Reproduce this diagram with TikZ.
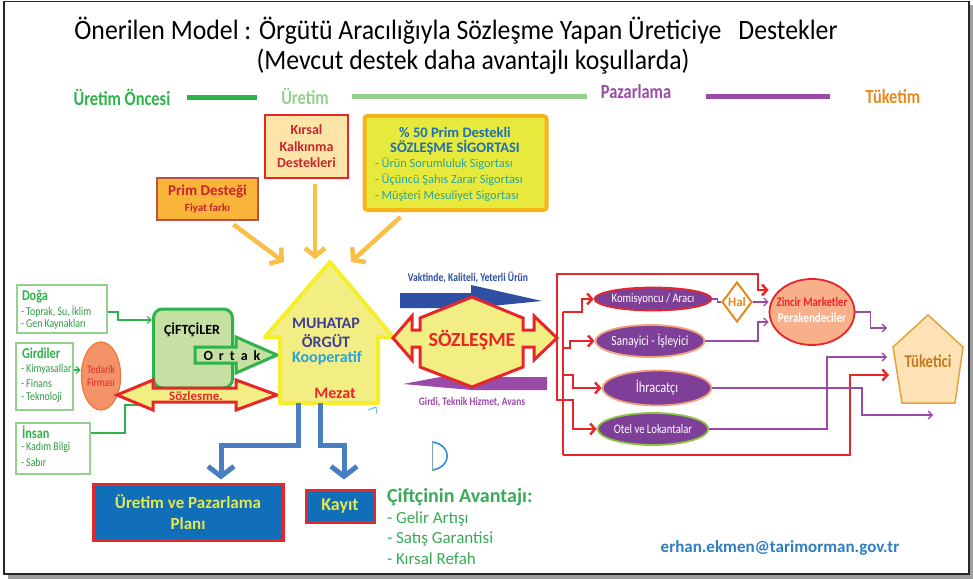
\documentclass[tikz,border=0pt]{standalone}
\usepackage{fontspec}
\setmainfont{Carlito}
\newfontfamily\narrowfont[FakeStretch=0.82]{Carlito}
\newfontfamily\titlefont[FakeStretch=0.92]{Carlito}
\usetikzlibrary{arrows.meta,shapes.geometric}

\newcommand{\pxs}[2]{\fontsize{#1}{#2}\selectfont}

\definecolor{grnA}{HTML}{2DB34A}
\definecolor{grnB}{HTML}{93D18C}
\definecolor{grnT}{HTML}{2F9A44}
\definecolor{purA}{HTML}{9A4BA8}
\definecolor{orgA}{HTML}{E8891E}
\definecolor{redA}{HTML}{E8262A}
\definecolor{yelF}{HTML}{F2EE84}
\definecolor{yelB}{HTML}{F4EE2C}
\definecolor{bluA}{HTML}{4A7EC2}
\definecolor{bluP}{HTML}{106FB8}
\definecolor{txtY}{HTML}{E4E84C}
\definecolor{purE}{HTML}{7D3F98}
\definecolor{arrO}{HTML}{FABF48}
\definecolor{dkred}{HTML}{C4262E}
\definecolor{navy}{HTML}{2E4FA2}
\definecolor{hTxt}{HTML}{3C3F95}
\definecolor{skyb}{HTML}{2BA0D9}
\definecolor{tealT}{HTML}{2AA3A0}
\definecolor{sigblue}{HTML}{1F6FB4}
\definecolor{sigB}{HTML}{F7B418}
\definecolor{sigF}{HTML}{E7EA3C}
\definecolor{primF}{HTML}{F9B43A}
\definecolor{primB}{HTML}{B5524A}
\definecolor{peach}{HTML}{FDE5A8}
\definecolor{cifF}{HTML}{C6E0A4}
\definecolor{tedF}{HTML}{F4936A}
\definecolor{tedB}{HTML}{F07A3C}
\definecolor{zinF}{HTML}{F8B08A}
\definecolor{tukF}{HTML}{FDE2B6}
\definecolor{tukB}{HTML}{E3A23B}
\definecolor{tukT}{HTML}{C47A1C}
\definecolor{avG}{HTML}{3AAA5A}
\definecolor{mailB}{HTML}{2E7EC0}
\definecolor{sanB}{HTML}{F4A27A}
\definecolor{otelB}{HTML}{8CC63F}

\begin{document}
\begin{tikzpicture}[x=1pt,y=-1pt,
  txt/.style={inner sep=0pt, outer sep=0pt, align=center},
  ltxt/.style={inner sep=0pt, outer sep=0pt, anchor=west},
  srcbox/.style={draw=grnB, line width=1.3pt, fill=white, inner sep=0pt},
  srchead/.style={ltxt, font=\narrowfont\bfseries\pxs{15}{17}, text=grnA},
  srcitem/.style={ltxt, font=\narrowfont\pxs{12}{14}, text=grnT},
  gline/.style={draw=grnA, line width=1.1pt},
  garrow/.style={gline, -{Straight Barb[length=4pt,width=7pt]}},
  rline/.style={draw=redA, line width=2.4pt},
  rarrow/.style={rline, -{Straight Barb[length=5pt,width=11pt]}},
  pline/.style={draw=purA, line width=1.3pt},
  parrow/.style={pline, -{Straight Barb[length=4pt,width=8pt]}},
  supp/.style={draw=arrO, line width=4.5pt, -{Straight Barb[length=8pt,width=20pt]}},
  bline/.style={draw=bluA, line width=5pt, -{Straight Barb[length=10pt,width=26pt]}},
  mkt/.style={ellipse, fill=purE, inner sep=0pt, line width=1.8pt, text=white},
  phase/.style={txt, font=\narrowfont\bfseries\pxs{20}{22}},
  house/.style={txt, font=\bfseries\pxs{16}{18}},
  avtxt/.style={ltxt, font=\pxs{17}{19}, text=avG},
]
\useasboundingbox (0,0) rectangle (973,580);

% slide frame with drop shadow
\fill[black!38] (8,5) rectangle (973,579);
\draw[black!85, line width=1.3pt, fill=white] (4,1.5) rectangle (969,574);

% title
\node[txt, font=\titlefont\pxs{28}{30}] (title) at (456,31)
  {Önerilen Model : Örgütü Aracılığıyla Sözleşme Yapan Üreticiye\hspace{0.4em} Destekler};
\node[txt, font=\titlefont\pxs{28}{30}] (subtitle) at (473,62)
  {(Mevcut destek daha avantajlı koşullarda)};

% phase legend
\node[phase, text=grnA] (phPre) at (122,97) {Üretim Öncesi};
\draw[grnA, line width=5pt] (187,98) -- (257,98);
\node[phase, text=grnB] (phProd) at (305,96) {Üretim};
\draw[grnB, line width=5pt] (352,97) -- (587,97);
\node[phase, text=purA] (phMkt) at (636,92) {Pazarlama};
\draw[purA, line width=5pt] (706,97) -- (830,97);
\node[phase, text=orgA] (phCons) at (893,97) {Tüketim};

% support boxes
\node[draw=primB, fill=primF, line width=1.2pt, minimum width=101, minimum height=42, inner sep=0] (prim) at (207.5,199) {};
\node[txt, font=\bfseries\pxs{15}{17}, text=dkred] (primT1) at (207.5,192) {Prim Desteği};
\node[txt, font=\bfseries\pxs{11}{12}, text=dkred] (primT2) at (207.5,209) {Fiyat farkı};

\node[draw=redA, fill=peach, line width=1.5pt, minimum width=83, minimum height=63, inner sep=0,
      align=center, font=\bfseries\pxs{14}{16.5}, text=dkred] (kirsal) at (306.5,146.5)
  {Kırsal\\Kalkınma\\Destekleri};

\node[draw=sigB, fill=sigF, line width=4pt, rounded corners=3pt, minimum width=182, minimum height=94, inner sep=0] (sig) at (455.5,163) {};
\node[txt, font=\bfseries\pxs{14.5}{16}, text=sigblue] (sigT1) at (455,132) {\%~50 Prim Destekli};
\node[txt, font=\bfseries\pxs{14.5}{16}, text=sigblue] (sigT2) at (455,148) {SÖZLEŞME SİGORTASI};
\node[ltxt, font=\pxs{12.4}{14}, text=tealT] (sigI1) at (375,164) {- Ürün Sorumluluk Sigortası};
\node[ltxt, font=\pxs{12.4}{14}, text=tealT] (sigI2) at (375,180) {- Üçüncü Şahıs Zarar Sigortası};
\node[ltxt, font=\pxs{12.4}{14}, text=tealT] (sigI3) at (375,196) {- Müşteri Mesuliyet Sigortası};

% supports flowing to the organisation
\coordinate (hL) at (284,262);
\coordinate (hM) at (315,259);
\coordinate (hR) at (351,262);
\draw[supp] ([xshift=26pt,yshift=-4pt]prim.south) -- (hL);
\draw[supp] ([xshift=8.5pt,yshift=-5pt]kirsal.south) -- (hM);
\draw[supp] ([xshift=-55pt,yshift=-5pt]sig.south) -- (hR);

% production inputs
\node[srcbox, minimum width=90, minimum height=48] (doga) at (62,309) {};
\node[srchead] (dogaT) at (22,297) {Doğa};
\node[srcitem] (doga1) at (21,312) {- Toprak, Su, İklim};
\node[srcitem] (doga2) at (21,324) {- Gen Kaynakları};

\node[srcbox, minimum width=57, minimum height=67] (girdi) at (44.5,376.5) {};
\node[srchead] (girdiT) at (22,353) {Girdiler};
\node[srcitem] (girdi1) at (21,369) {- Kimyasallar};
\node[srcitem] (girdi2) at (21,383) {- Finans};
\node[srcitem] (girdi3) at (21,397) {- Teknoloji};

\node[srcbox, minimum width=74, minimum height=51] (insan) at (53,448.5) {};
\node[srchead] (insanT) at (22,432) {İnsan};
\node[srcitem] (insan1) at (21,447) {- Kadım Bilgi};
\node[srcitem] (insan2) at (21,462) {- Sabır};

\node[ellipse, draw=tedB, fill=tedF, line width=1.3pt, minimum width=36, minimum height=68, inner sep=0,
      align=center, font=\narrowfont\pxs{11.5}{12.5}, text=redA] (tedarik) at (101,376) {Tedarik\\Firması};

% farmers
\node[draw=grnA, fill=cifF, line width=3pt, rounded corners=9pt, minimum width=79, minimum height=79, inner sep=0] (ciftci) at (193,348.5) {};
\node[txt, font=\bfseries\pxs{14}{16}] (ciftciT) at (192,330) {ÇİFTÇİLER};

\draw[garrow] (doga.east |- 0,312) -- (118,312) |- (ciftci.west |- 0,320);
\draw[garrow] (girdi.east |- 0,370) -- (tedarik.west |- 0,370);
\draw[gline] (insan.east |- 0,433) -- (125,433) |- (ciftci.west |- 0,405);

% "Ortak" arrow
\draw[draw=grnA, fill=cifF, line width=3pt] (195,347) -- (236,347) -- (236,337) -- (277,355)
  -- (236,373) -- (236,363) -- (195,363) -- cycle;
\node[txt, font=\bfseries\pxs{14}{16}] (ortakT) at (232,356) {O\kern6pt r\kern6pt t\kern6pt a\kern6pt k};

% contract arrow between supplier and organisation
\draw[draw=redA, fill=yelF, line width=3pt] (117,395) -- (153,380) -- (153,388) -- (236,388) -- (236,380)
  -- (277,395) -- (236,410) -- (236,402) -- (153,402) -- (153,410) -- cycle;
\node[txt, font=\bfseries\pxs{13}{15}, text=redA] (sozT) at (196,396) {Sözlesme.};

% the organisation
\draw[draw=yelB, fill=yelF, line width=4pt, line join=round] (330,262) -- (393,337) -- (378,337)
  -- (378,403) -- (280,403) -- (280,337) -- (265,337) -- cycle;
\node[house, text=hTxt] (muh1) at (326,323) {MUHATAP};
\node[house, text=hTxt] (muh2) at (326,341) {ÖRGÜT};
\node[house, text=skyb] (muh3) at (327,358) {Kooperatif};
\node[house, text=redA] (mezat) at (335,393) {Mezat};
\draw[skyb!70, line width=1pt] (368,410) -- (376,407) -- (377,414);

% planning outputs
\coordinate (hb1) at (298,403);
\coordinate (hb2) at (320,403);
\node[draw=redA, fill=bluP, line width=3pt, minimum width=190, minimum height=56, inner sep=0,
      align=center, font=\bfseries\pxs{17}{21}, text=txtY] (plan) at (188,512) {Üretim ve Pazarlama\\Planı};
\node[draw=redA, fill=bluP, line width=3pt, minimum width=68, minimum height=32, inner sep=0,
      font=\bfseries\pxs{18}{20}, text=txtY] (kayit) at (340,506) {Kayıt};
\draw[bline] (hb1) -- (298,445) -| ([xshift=33pt,yshift=3pt]plan.north);
\draw[bline] (hb2) -- (320,445) -| ([xshift=4pt,yshift=9pt]kayit.north);

% farmer's advantages
\node[ltxt, font=\bfseries\pxs{20}{22}, text=avG] (avT) at (387,497) {Çiftçinin Avantajı:};
\node[avtxt] (av1) at (387,519) {- Gelir Artışı};
\node[avtxt] (av2) at (387,539) {- Satış Garantisi};
\node[avtxt] (av3) at (387,559) {- Kırsal Refah};

% small pen mark
\draw[black!30!tealT!60, line width=1pt] (432,441) -- (432,471);
\draw[skyb!85!blue, line width=1.5pt] (433,442) .. controls (452,446) and (452,466) .. (433,470);

% product and input flows behind the contract
\fill[navy] (400,293) -- (471,293) -- (471,285) -- (542,301) -- (471,308) -- (400,308) -- cycle;
\fill[purA] (403,384) -- (472,371) -- (472,377) -- (547,377) -- (547,390) -- (472,390) -- cycle;
\node[txt, font=\narrowfont\bfseries\pxs{11.8}{13}, text=navy] (vakT) at (468,277) {Vaktinde, Kaliteli, Yeterli Ürün};
\node[txt, font=\narrowfont\bfseries\pxs{11.5}{13}, text=purA] (girT) at (472,402) {Girdi, Teknik Hizmet, Avans};

% central contract
\draw[draw=redA, fill=yelF, line width=3pt, line join=miter]
  (393,338) -- (412,316) -- (412,330) -- (420,330) -- (420,318) -- (472,297) -- (523,318)
  -- (523,330) -- (534,330) -- (534,316) -- (557,338) -- (534,360) -- (534,347) -- (523,347)
  -- (523,367) -- (472,387) -- (420,367) -- (420,347) -- (412,347) -- (412,360) -- cycle;
\node[txt, font=\bfseries\pxs{20}{22}, text=redA] (sozBig) at (472,340) {SÖZLEŞME};
\coordinate (hexR) at (557,338);

% market channels
\node[mkt, draw=redA, minimum width=106, minimum height=23, font=\narrowfont\pxs{13}{14}] (kom) at (653,299) {Komisyoncu / Aracı};
\node[mkt, draw=sanB, minimum width=100, minimum height=32, font=\narrowfont\pxs{14}{15}] (san) at (650,341) {Sanayici - İşleyici};
\node[mkt, draw=sanB, minimum width=109, minimum height=35, font=\narrowfont\pxs{15}{16}] (ihr) at (657,388) {İhracatçı};
\node[mkt, draw=otelB, minimum width=100, minimum height=32, font=\narrowfont\pxs{13}{14}] (otel) at (653,429) {Otel ve Lokantalar};

\node[ellipse, draw=redA, fill=zinF, line width=1.8pt, minimum width=85, minimum height=66, inner sep=0] (zincir) at (812,312) {};
\node[txt, font=\narrowfont\bfseries\pxs{13}{14}, text=redA] (zinT1) at (812,302) {Zincir Marketler};
\node[txt, font=\narrowfont\bfseries\pxs{13.5}{14}, text=white] (zinT2) at (812,318) {Perakendeciler};

\node[diamond, draw=orgA, fill=white, line width=2pt, minimum width=30, minimum height=40, inner sep=0,
      font=\bfseries\pxs{13}{14}, text=orgA] (hal) at (737,302) {Hal};

\draw[draw=tukB, fill=tukF, line width=1.5pt] (928,315) -- (963,347) -- (955,403) -- (902,403) -- (893,347) -- cycle;
\node[txt, font=\narrowfont\bfseries\pxs{18}{20}, text=tukT] (tuk) at (928,361) {Tüketici};
\coordinate (tin1) at (887,328);
\coordinate (tin2) at (887,357);
\coordinate (tin3) at (889,375);
\coordinate (exitR) at (933,415);

% contract distribution lines
\draw[rarrow] (hexR) |- (758,274) -- (758,290) -- (zincir.west |- 0,290);
\draw[rarrow] (hexR) -- (hexR |- 0,400) -- (573,400) |- (otel.west);
\draw[rline] (563,312) -- (563,455);
\draw[rarrow] (563,312) -- (582,312) |- (kom.west);
\draw[rarrow] (563,348) -- (570,348) |- (san.west);
\draw[rarrow] (563,375) -- (573,375) |- (ihr.west);
\draw[rarrow] (563,455) -- (850,455) |- (tin3);

% product flows to consumers
\draw[pline] (kom.east) -- ++(5,0) |- (hal.west);
\draw[parrow] (hal.east) -- (zincir.west |- hal.east);
\draw[parrow] (san.east) -- (758,341) |- (zincir.west |- 0,322);
\draw[parrow] (zincir.east) -- ++(15,0) |- (tin1);
\draw[parrow] (otel.east) -- (827,429) |- (tin2);
\draw[parrow] (ihr.east) -- (862,388) |- (exitR);

% contact
\node[txt, font=\bfseries\pxs{17}{19}, text=mailB] (mail) at (780,548) {erhan.ekmen@tarimorman.gov.tr};
\end{tikzpicture}
\end{document}
